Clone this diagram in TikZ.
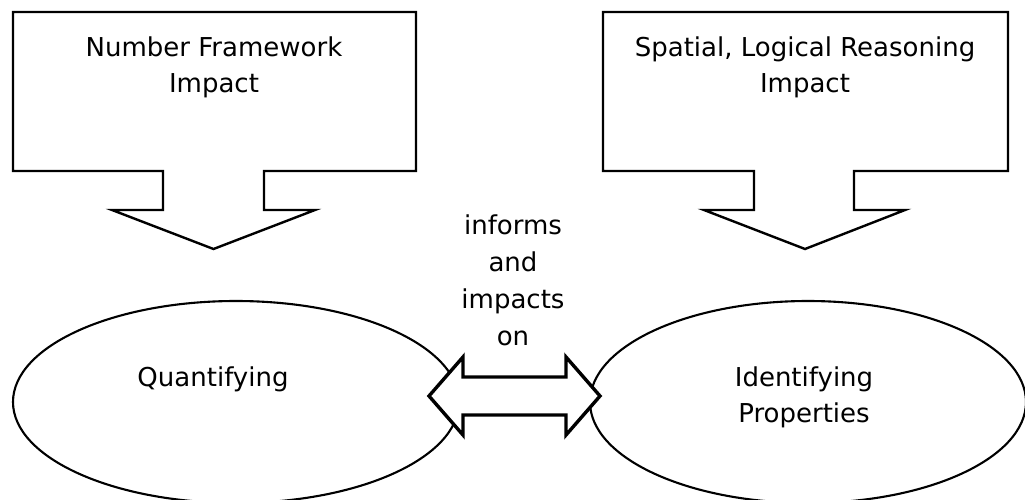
\documentclass[tikz,border=0pt]{standalone}
\usepackage{fontspec}
\setmainfont{DejaVu Sans}
\usetikzlibrary{shapes.geometric,calc}
\begin{document}
\begin{tikzpicture}[x=1pt,y=-1pt,
  calloutbox/.style={draw=black, line width=2.4pt, fill=white, line join=miter},
  bubble/.style={ellipse, draw=black, line width=2.1pt, inner sep=0pt},
  link/.style={draw=black, line width=3.4pt, fill=white, line join=miter},
  lbl/.style={font=\fontsize{26}{36}\selectfont, align=center, inner sep=0pt, anchor=north, text=black}]
\clip (0,0) rectangle (1025,500);
\fill[white] (0,0) rectangle (1025,500);
% callouts
\draw[calloutbox] (13,12) -- (416,12) -- (416,171) -- (264,171) -- (264,210) -- (315,210) -- (213.5,249) -- (112,210) -- (163,210) -- (163,171) -- (13,171) -- cycle;
\draw[calloutbox] (603,12) -- (1008,12) -- (1008,171) -- (854,171) -- (854,210) -- (905,210) -- (805,249) -- (704,210) -- (754,210) -- (754,171) -- (603,171) -- cycle;
% ellipses
\node[bubble, minimum width=446pt, minimum height=202pt] (quant) at (236,402) {};
\node[bubble, minimum width=436pt, minimum height=202pt] (ident) at (808,402) {};
% double arrow
\coordinate (tl) at (429,396);
\coordinate (tr) at (600,396);
\draw[link] (tl) -- ++(34,-39) -- ++(0,20) -- ($(tr)+(-34,-19)$) -- ++(0,-20) -- (tr) -- ++(-34,39) -- ++(0,-20) -- ($(tl)+(34,19)$) -- ++(0,20) -- cycle;
% texts
\node[lbl] (nf) at (214,37) {Number Framework\\Impact};
\node[lbl] (sl) at (805,37) {Spatial, Logical Reasoning\\Impact};
\node[lbl] (qt) at (213,367) {Quantifying};
\node[lbl] (ip) at (804,367) {Identifying\\Properties};
\node[lbl, font=\fontsize{26}{37}\selectfont] (inf) at (513,215) {informs\\and\\impacts\\on};
\end{tikzpicture}
\end{document}
